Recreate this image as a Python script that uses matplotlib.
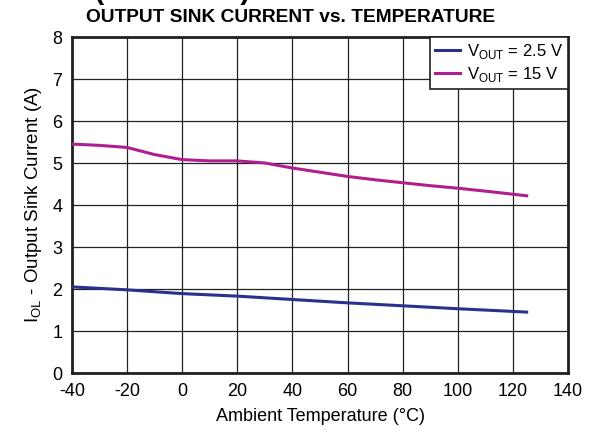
import numpy as np
import matplotlib
matplotlib.use('Agg')
import matplotlib.pyplot as plt

plt.rcParams['font.family'] = ['Liberation Sans', 'DejaVu Sans']
plt.rcParams['axes.unicode_minus'] = False

# data
temp_15 = [-40, -30, -20, -10, 0, 10, 20, 30, 40, 50, 60, 70, 80, 90, 100, 110, 125]
iol_15 = [5.45, 5.42, 5.37, 5.2, 5.08, 5.05, 5.05, 5.0, 4.88, 4.78, 4.68, 4.6, 4.53, 4.46, 4.4, 4.33, 4.22]

temp_25 = [-40, -20, 0, 20, 40, 60, 80, 100, 125]
iol_25 = [2.05, 1.98, 1.89, 1.83, 1.75, 1.67, 1.6, 1.53, 1.45]

xticks = [-40, -20, 0, 20, 40, 60, 80, 100, 120, 140]
yticks = [0, 1, 2, 3, 4, 5, 6, 7, 8]

fig = plt.figure(figsize=(5.9, 4.42), dpi=100)
ax = fig.add_axes([72/590, 1 - 373/442, 496/590, 336/442])

ax.plot(temp_25, iol_25, color='#2b2f8f', lw=2.2, label='V$_{\\mathregular{OUT}}$ = 2.5 V', zorder=3)
ax.plot(temp_15, iol_15, color='#b01e8f', lw=2.2, label='V$_{\\mathregular{OUT}}$ = 15 V', zorder=3)

ax.set_xlim(-40, 140)
ax.set_ylim(0, 8)
ax.set_xticks(xticks)
ax.set_yticks(yticks)
ax.grid(True, color='#222222', lw=0.9)
ax.tick_params(length=0, labelsize=13, pad=7)
for s in ax.spines.values():
    s.set_linewidth(2)
    s.set_color('#231f20')

ax.set_xlabel('Ambient Temperature (°C)', fontsize=13, labelpad=6)
ax.set_ylabel('I$_{\\mathregular{OL}}$ - Output Sink Current (A)', fontsize=13.5, labelpad=6)
fig.text(291/590, 1 - 17/442, 'OUTPUT SINK CURRENT vs. TEMPERATURE', fontsize=13.8,
         fontweight='bold', ha='center', va='center')

leg = ax.legend(loc='upper right', fontsize=12, frameon=True, fancybox=False,
                borderaxespad=0, handlelength=1.5, handletextpad=0.4,
                borderpad=0.3, labelspacing=0.25)
leg.get_frame().set_edgecolor('#231f20')
leg.get_frame().set_linewidth(1.2)
leg.get_frame().set_alpha(1)

# cut-off heading above the chart
fig.text(250/590, 1 + 1/442, 'TYPICAL CHARACTERISTICS (continued)', fontsize=20.5,
         fontweight='bold', ha='right', va='baseline')

fig.savefig('out.png', dpi=100)
